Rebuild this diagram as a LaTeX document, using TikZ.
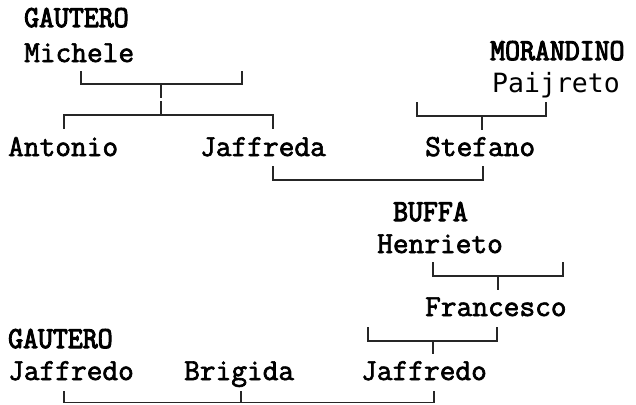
\documentclass[tikz,border=0pt]{standalone}
\usepackage{fontspec}
\newfontfamily\nmfont[FakeBold=2.2]{Latin Modern Mono}
\newfontfamily\fmfont[FakeBold=3.5,FakeStretch=0.95]{Latin Modern Mono}
\newfontfamily\pjfont{DejaVu Sans Mono}
\begin{document}
\begin{tikzpicture}[x=1pt,y=-1pt,
  givenname/.style={anchor=base west,inner sep=0pt,font=\nmfont\fontsize{30.5}{30.5}\selectfont},
  famname/.style={anchor=base west,inner sep=0pt,font=\fmfont\fontsize{30.5}{30.5}\selectfont},
  pjname/.style={anchor=base west,inner sep=0pt,font=\pjfont\fontsize{26.5}{26.5}\selectfont},
  link/.style={draw=black!85,line width=1.6pt,line cap=rect,line join=miter}]
\useasboundingbox (0,0) rectangle (636,404);
% texts
\node[famname] (gautA) at (24,27) {GAUTERO};
\node[givenname] (michele) at (24,62) {Michele};
\node[famname] (morandino) at (490,60) {MORANDINO};
\node[pjname] (paijreto) at (492,92) {Paijreto};
\node[givenname] (antonio) at (8,156) {Antonio};
\node[givenname] (jaffreda) at (200,156) {Jaffreda};
\node[givenname] (stefano) at (425,156) {Stefano};
\node[famname] (buffa) at (393,221) {BUFFA};
\node[givenname] (henrieto) at (377,253) {Henrieto};
\node[givenname] (francesco) at (425,316) {Francesco};
\node[famname] (gautB) at (8,348) {GAUTERO};
\node[givenname] (jaffredoA) at (8,380) {Jaffredo};
\node[givenname] (brigida) at (184,380) {Brigida};
\node[givenname] (jaffredoB) at (361,380) {Jaffredo};
% Michele bracket
\coordinate (mA) at (81,72);
\coordinate (mB) at (242,72);
\coordinate (mT) at (161,84);
\coordinate (mT2) at (161,97);
\coordinate (cT) at (161,102);
\coordinate (cH) at (161,115);
\coordinate (cL) at (64,128);
\coordinate (cR) at (273,128);
\draw[link] (mA) |- (mT) -| (mB);
\draw[link] (mT) -- (mT2);
\draw[link] (cT) -- (cH);
\draw[link] (cL) |- (cH) -| (cR);
% Jaffreda - Stefano
\coordinate (jsL) at (273,167);
\coordinate (jsR) at (483,167);
\coordinate (jsM) at (378,180);
\draw[link] (jsL) |- (jsM) -| (jsR);
% Paijreto bracket
\coordinate (pL) at (417,103);
\coordinate (pR) at (546,103);
\coordinate (pM) at (482,116);
\coordinate (pS) at (482,129);
\draw[link] (pL) |- (pM) -| (pR);
\draw[link] (pM) -- (pS);
% Henrieto bracket
\coordinate (hL) at (433,263);
\coordinate (hR) at (563,263);
\coordinate (hM) at (498,276);
\coordinate (hS) at (498,289);
\draw[link] (hL) |- (hM) -| (hR);
\draw[link] (hM) -- (hS);
% Francesco bracket
\coordinate (fL) at (368,328);
\coordinate (fR) at (497,328);
\coordinate (fM) at (433,341);
\coordinate (fS) at (433,353);
\draw[link] (fL) |- (fM) -| (fR);
\draw[link] (fM) -- (fS);
% bottom line
\coordinate (bL) at (64,392);
\coordinate (bR) at (434,392);
\coordinate (bM) at (241,392);
\coordinate (bH) at (241,402.5);
\draw[link] (bL) |- (bH) -| (bR);
\draw[link] (bM) -- (bH);
\end{tikzpicture}
\end{document}
